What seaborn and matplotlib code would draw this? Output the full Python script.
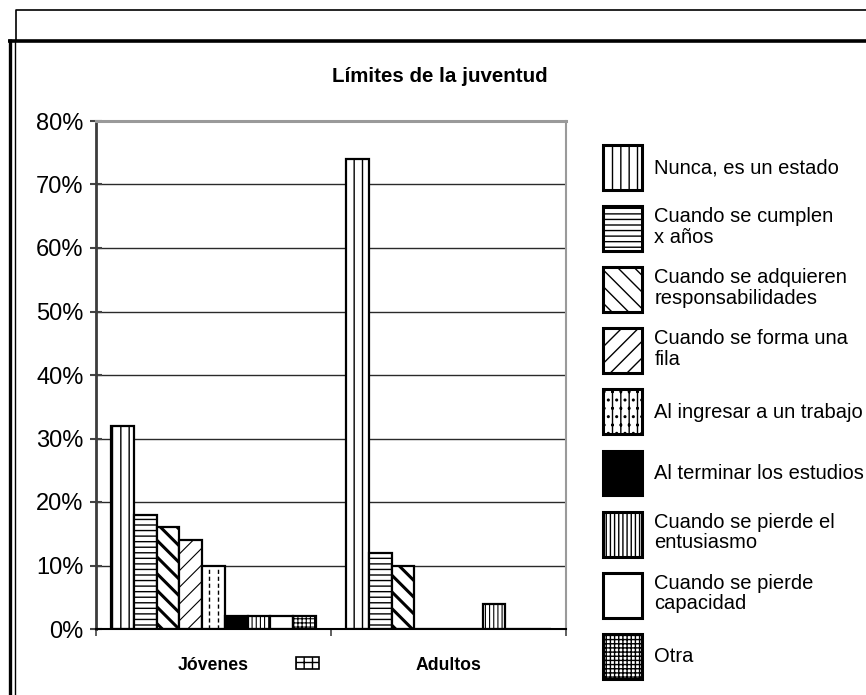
import numpy as np
import pandas as pd
import matplotlib
matplotlib.use("Agg")
import matplotlib.pyplot as plt
import seaborn as sns
from matplotlib.ticker import PercentFormatter, FixedLocator
from matplotlib.lines import Line2D
from matplotlib.patches import Rectangle

# ---- data -------------------------------------------------------------
grupos = ["Jóvenes", "Adultos"]
respuestas = [
    "Nunca, es un estado",
    "Cuando se cumplen\nx años",
    "Cuando se adquieren\nresponsabilidades",
    "Cuando se forma una\nfila",
    "Al ingresar a un trabajo",
    "Al terminar los estudios",
    "Cuando se pierde el\nentusiasmo",
    "Cuando se pierde\ncapacidad",
    "Otra",
]
jovenes = [32, 18, 16, 14, 10, 2, 2, 2, 2]
adultos = [74, 12, 10, 0, 0, 0, 4, 0, 0]
y_ticks = [0, 10, 20, 30, 40, 50, 60, 70, 80]
titulo = "Límites de la juventud"

df = pd.DataFrame({
    "grupo": [g for g in grupos for _ in respuestas],
    "respuesta": respuestas * len(grupos),
    "valor": jovenes + adultos,
})

# ---- style ------------------------------------------------------------
sns.set_theme(style="white")
plt.rcParams["font.family"] = ["Liberation Sans", "DejaVu Sans"]
plt.rcParams["hatch.linewidth"] = 1.0
plt.rcParams["text.color"] = "black"
plt.rcParams["xtick.labelcolor"] = "black"
plt.rcParams["ytick.labelcolor"] = "black"

colores = ["white"] * len(respuestas)
colores[5] = "black"
tramas = ["||", "---", "\\\\", "//", "", "", "||||", "", "++++"]
grosor_trama = [1.0, 1.0, 2.2, 0.8, 1.0, 1.0, 0.8, 1.0, 0.8]

W, H = 866, 695
fig = plt.figure(figsize=(W / 100, H / 100), dpi=100)
fig.patch.set_facecolor("white")


def fx(x):
    return x / W


def fy(y):
    return 1 - y / H


ax = fig.add_axes([fx(96), fy(629), fx(566) - fx(96), fy(121) - fy(629)])

sns.barplot(
    data=df, x="grupo", y="valor", hue="respuesta",
    order=grupos, hue_order=respuestas, palette=colores,
    saturation=1, edgecolor="black", linewidth=1.6, width=0.87,
    legend=False, ax=ax,
)

for cont, trama, lw in zip(ax.containers, tramas, grosor_trama):
    for bar in cont.patches:
        bar.set_hatch(trama)
        if hasattr(bar, "set_hatch_linewidth"):
            bar.set_hatch_linewidth(lw)
        bar.set_zorder(3)

# dashed vertical strokes inside the "Al ingresar a un trabajo" bars
for bar in ax.containers[4].patches:
    h = bar.get_height()
    if h > 0:
        x0, w = bar.get_x(), bar.get_width()
        ax.vlines([x0 + w * 0.28, x0 + w * 0.72], 0, h, colors="black",
                  linestyles=(0, (3, 2)), linewidth=1.0, zorder=4)

# ---- axes -------------------------------------------------------------
ax.set_ylim(0, 80)
ax.set_xlim(-0.5, 1.5)
ax.yaxis.set_major_locator(FixedLocator(y_ticks))
ax.yaxis.set_major_formatter(PercentFormatter(100, decimals=0))
ax.set_xlabel("")
ax.set_ylabel("")

ax.yaxis.grid(True, color="#2a2a2a", linewidth=1.0)
ax.xaxis.grid(False)
ax.set_axisbelow(True)

ax.spines["left"].set_color("#3c3c3c")
ax.spines["left"].set_linewidth(2.0)
ax.spines["bottom"].set_color("black")
ax.spines["bottom"].set_linewidth(1.5)
ax.spines["top"].set_color("#9a9a9a")
ax.spines["top"].set_linewidth(2.2)
ax.spines["right"].set_color("#9a9a9a")
ax.spines["right"].set_linewidth(1.5)
for s in ax.spines.values():
    s.set_zorder(5)

ax.tick_params(axis="y", which="major", direction="inout", length=8,
               width=1.5, color="#444444", labelcolor="black",
               labelsize=17, pad=5, left=True)
ax.tick_params(axis="x", which="major", length=0, pad=20, bottom=True,
               labelcolor="black")
ax.set_xticks([-0.5, 0.5, 1.5], minor=True)
ax.tick_params(axis="x", which="minor", direction="out", length=5,
               width=1.2, color="#444444", bottom=True)
for lab in ax.get_xticklabels():
    lab.set_fontweight("bold")
    lab.set_fontsize(12.7)

# ---- title and legend -------------------------------------------------
fig.text(fx(440), fy(77), titulo, ha="center", va="center",
         fontsize=14.8, fontweight="bold", color="black")

leg = fig.legend(
    handles=[c.patches[0] for c in ax.containers], labels=respuestas,
    loc="upper left", bbox_to_anchor=(fx(603), fy(145)),
    frameon=False, prop={"size": 14.5}, labelcolor="black",
    handlelength=1.95, handleheight=3.06, handletextpad=0.6,
    labelspacing=0.8, borderpad=0, borderaxespad=0,
)
for t in leg.get_texts():
    t.set_linespacing(1.1)
for hnd in leg.legend_handles:
    hnd.set_linewidth(2.2)
leg.legend_handles[4].set_hatch("||..")

# small grid key next to the first group label
fig.add_artist(Rectangle((fx(296), fy(669)), fx(319) - fx(296), fy(657) - fy(669),
                         transform=fig.transFigure, facecolor="white",
                         edgecolor="black", hatch="++", linewidth=1.2))

# ---- outer frames -----------------------------------------------------
frame = dict(transform=fig.transFigure, color="black", solid_capstyle="butt")
fig.add_artist(Line2D([fx(16), fx(16), fx(W + 5)], [fy(40), fy(10), fy(10)],
                      linewidth=1.2, **frame))
fig.add_artist(Line2D([fx(8), fx(W + 5)], [fy(40.5), fy(40.5)], linewidth=2.6, **frame))
fig.add_artist(Line2D([fx(9.5), fx(9.5)], [fy(39), fy(H + 5)], linewidth=2.4, **frame))
fig.add_artist(Line2D([fx(15), fx(15)], [fy(40), fy(H + 5)], linewidth=1.0, **frame))

fig.savefig("out.png", dpi=100)
